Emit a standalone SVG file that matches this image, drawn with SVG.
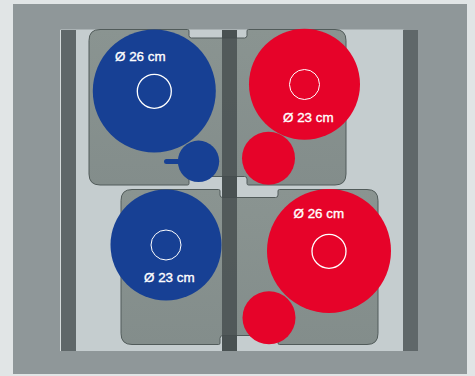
<svg xmlns="http://www.w3.org/2000/svg" width="475" height="376" viewBox="0 0 475 376">
<style>
.bar{fill:#5f6769}
.tray{fill:url(#tg);stroke:#515b5a;stroke-width:1}
.blue{fill:#174094}
.red{fill:#e60329}
.hole{fill:none;stroke:#fff;stroke-width:1}
.hole-lg{fill:none;stroke:#fff;stroke-width:1.300}
.lbl{font-family:"Liberation Sans",Arial,sans-serif;font-size:13.400px;fill:#fff;stroke:#fff;stroke-width:.35}
</style>
<defs>
<linearGradient id="tg" x1="0" y1="0" x2="0" y2="1"><stop offset="0" stop-color="#8a9491"/><stop offset="1" stop-color="#838d8b"/></linearGradient>
</defs>
<rect width="475" height="376" fill="#e1e5e6"/>
<rect x="13" y="4" width="454" height="370" fill="#8f9799"/>
<rect x="60.500" y="29.500" width="343" height="321.500" fill="#c5cdcf"/>
<path d="M60.500 30V351" stroke="#d5dbdc" stroke-width="1" fill="none"/>
<rect class="bar" x="61" y="30" width="15" height="321"/>
<rect class="bar" x="403" y="30" width="15" height="321"/>
<rect class="bar" x="222" y="30" width="15" height="321"/>
<g id="tray-top">
<path class="tray" d="M100 29.500H187.500Q189 29.500 189 31V35.500Q189 38 191.500 38H244.500Q247 38 247 35.500V31Q247 29.500 248.500 29.500H335Q346 29.500 346 40.500V174Q346 185 335 185H248.500Q247 185 247 183.500V179Q247 176.500 244.500 176.500H191.500Q189 176.500 189 179V183.500Q189 185 187.500 185H100Q89 185 89 174V40.500Q89 29.500 100 29.500Z"/>
</g>
<g id="tray-bottom">
<path class="tray" d="M132 189.500H218.500Q220 189.500 220 191V195Q220 197.500 222.500 197.500H275.500Q278 197.500 278 195V191Q278 189.500 279.500 189.500H367Q378 189.500 378 200.500V333.500Q378 344.500 367 344.500H279.500Q278 344.500 278 343V338.500Q278 335.500 275.500 335.500H222.500Q220 335.500 220 338.500V343Q220 344.500 218.500 344.500H132Q121 344.500 121 333.500V200.500Q121 189.500 132 189.500Z"/>
</g>
<rect x="222" y="30" width="15" height="321" fill="#434b4c" opacity=".79"/>
<g id="burner-blue-26">
<circle class="blue" cx="154.300" cy="91" r="61.500"/>
<circle class="hole-lg" cx="154.300" cy="91.300" r="17"/>
<text class="lbl" x="115" y="61">Ø 26 cm</text>
</g>
<g id="burner-blue-small">
<rect class="blue" x="164" y="159" width="20" height="5" rx="2.500"/>
<circle class="blue" cx="198.500" cy="161.300" r="20.700"/>
</g>
<g id="burner-red-23">
<circle class="red" cx="304.500" cy="84.300" r="55.500"/>
<circle class="hole" cx="304.500" cy="84.500" r="15"/>
<text class="lbl" x="283" y="122">Ø 23 cm</text>
</g>
<g id="burner-red-small-top">
<circle class="red" cx="268.500" cy="158.200" r="26.500"/>
</g>
<g id="burner-blue-23">
<circle class="blue" cx="166" cy="245" r="55.500"/>
<circle class="hole" cx="166" cy="245" r="15"/>
<text class="lbl" x="144" y="282">Ø 23 cm</text>
</g>
<g id="burner-red-26">
<circle class="red" cx="329" cy="251" r="62"/>
<circle class="hole-lg" cx="329" cy="251.300" r="17"/>
<text class="lbl" x="293.500" y="218">Ø 26 cm</text>
</g>
<g id="burner-red-small-bottom">
<circle class="red" cx="269" cy="317.700" r="26.500"/>
</g>
</svg>
